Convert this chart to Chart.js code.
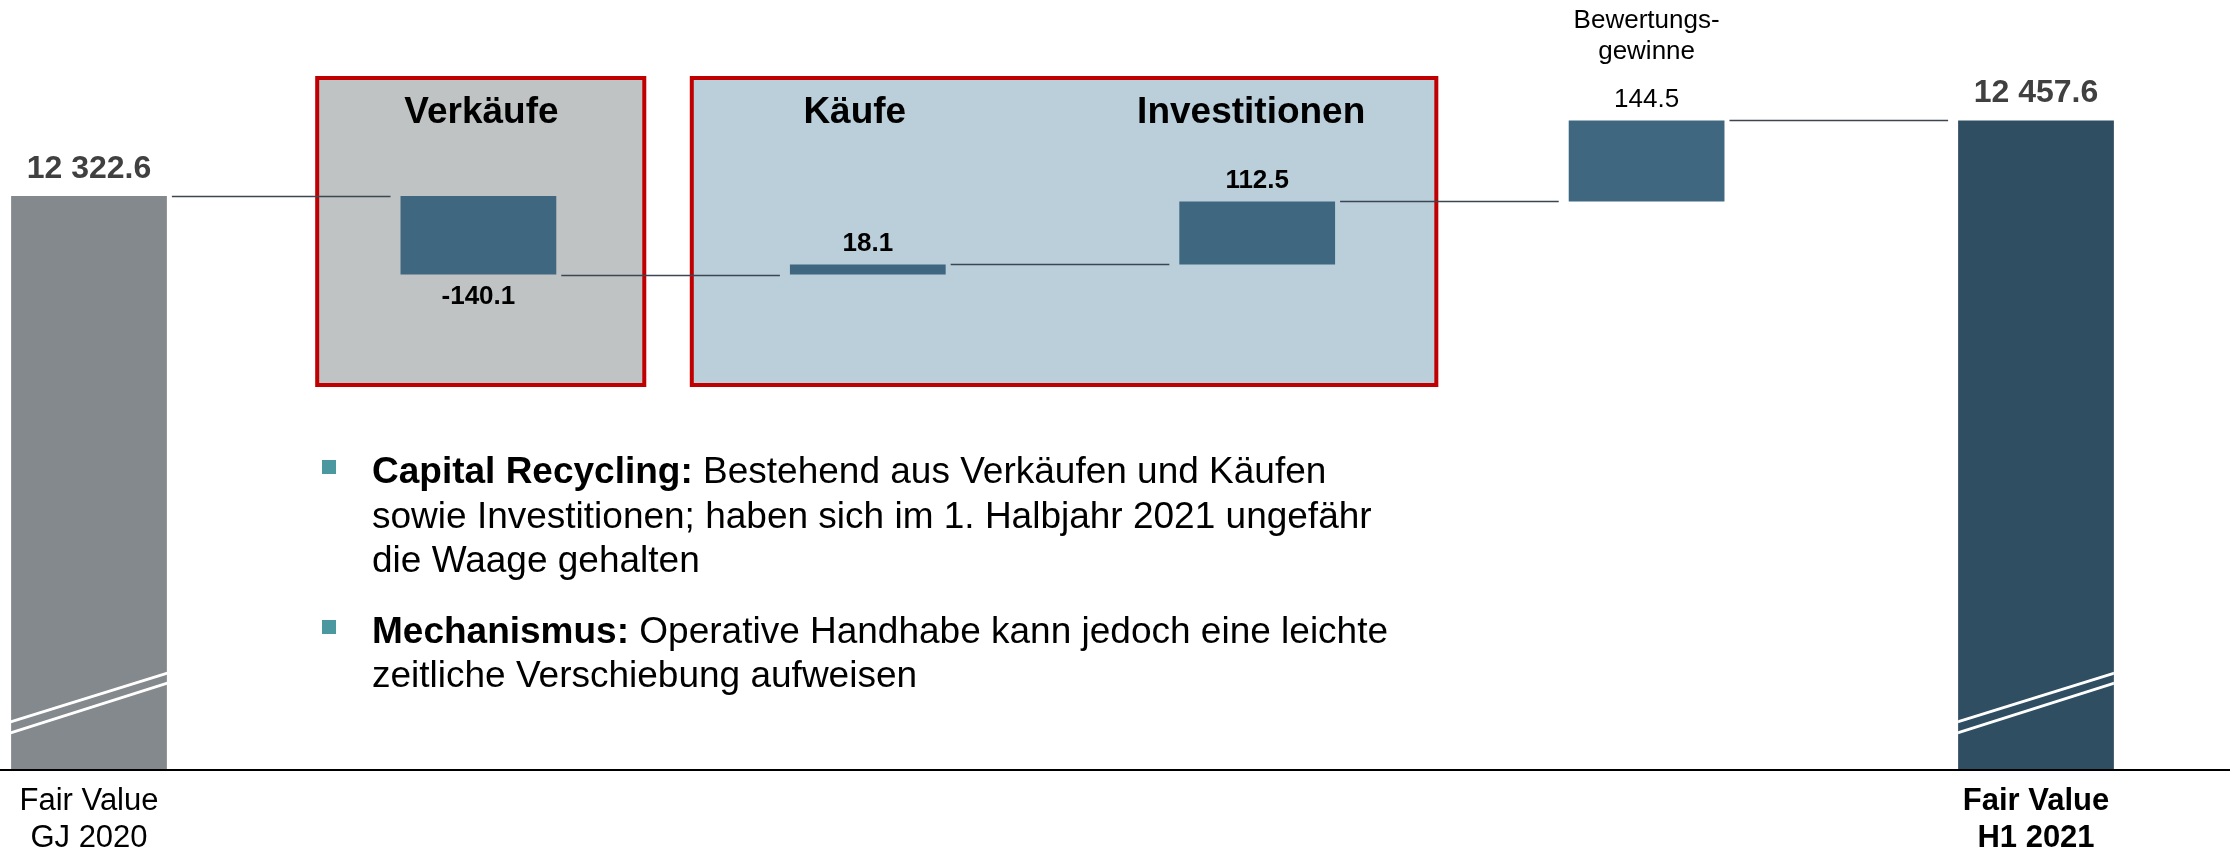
<!DOCTYPE html>
<html lang="de">
<head>
<meta charset="utf-8">
<title>Fair Value Entwicklung H1 2021</title>
<script src="https://cdn.jsdelivr.net/npm/chart.js@4.4.1/dist/chart.umd.min.js"></script>
<style>
  html, body { margin: 0; padding: 0; background: #fff; }
  #wrap { position: relative; width: 2236px; height: 853px; overflow: hidden; }
  #chart { position: absolute; left: 0; top: 0; }
  .notes { position: absolute; left: 372px; top: 449px; font-family: 'Liberation Sans', Arial, sans-serif; font-size: 37px; line-height: 44.5px; color: #000; }
  .notes p { position: relative; margin: 0 0 26px 0; }
  .notes p::before { content: ''; position: absolute; left: -50px; top: 11px; width: 14px; height: 14px; background: #4b98a0; }
</style>
</head>
<body>
<div id="wrap">
  <canvas id="chart" width="2236" height="853"></canvas>
  <div class="notes">
    <p><b>Capital Recycling:</b> Bestehend aus Verkäufen und Käufen<br>sowie Investitionen; haben sich im 1. Halbjahr 2021 ungefähr<br>die Waage gehalten</p>
    <p><b>Mechanismus:</b> Operative Handhabe kann jedoch eine leichte<br>zeitliche Verschiebung aufweisen</p>
  </div>
</div>
<script>
// Wasserfall: Fair Value GJ 2020 -> H1 2021 (Mio. EUR)
const categories = [['Fair Value', 'GJ 2020'], ['Verkäufe'], ['Käufe'], ['Investitionen'], ['Bewertungs-', 'gewinne'], ['Fair Value', 'H1 2021']];
const startValue = 12322.6;
const changes = [-140.1, 18.1, 112.5, 144.5];
const endValue = 12457.6;
// Achsenbruch: sichtbarer Ausschnitt der Werteachse
const axisFloor = 11300;
const axisTop = 12672.6;

const FONT = "'Liberation Sans', Arial, sans-serif";
const last = categories.length - 1;

// laufende Summen und schwebende Balken
const running = [startValue];
const barData = [startValue];
changes.forEach((c, i) => {
  const prev = running[i];
  running.push(prev + c);
  barData.push([prev, prev + c]);
});
running.push(endValue);
barData.push(endValue);

const barColors = ['#84898d', '#3f6780', '#3f6780', '#3f6780', '#3f6780', '#2f4e62'];
const valueWeight = ['bold', 'bold', 'bold', 'bold', 'normal', 'bold'];

function fmt(v) {
  const [int, dec] = Math.abs(v).toFixed(1).split('.');
  return (v < 0 ? '-' : '') + int.replace(/\B(?=(\d{3})+(?!\d))/g, ' ') + '.' + dec;
}

const decor = {
  id: 'decor',
  beforeDatasetsDraw(chart) {
    const { ctx } = chart;
    const x = chart.scales.x;
    const step = x.getPixelForValue(1) - x.getPixelForValue(0);
    const groups = [
      { from: 1, to: 1, l: 0.414, r: 0.426, fill: '#bfc3c4' },
      { from: 2, to: 3, l: 0.452, r: 0.460, fill: '#bacfda' }
    ];
    ctx.save();
    groups.forEach(g => {
      const left = x.getPixelForValue(g.from) - g.l * step;
      const right = x.getPixelForValue(g.to) + g.r * step;
      const top = 78, bottom = 385;
      ctx.fillStyle = g.fill;
      ctx.fillRect(left, top, right - left, bottom - top);
      ctx.strokeStyle = '#c00000';
      ctx.lineWidth = 4;
      ctx.strokeRect(left, top, right - left, bottom - top);
    });
    ctx.restore();
  },
  afterDatasetsDraw(chart) {
    const { ctx, chartArea } = chart;
    const y = chart.scales.y;
    const bars = chart.getDatasetMeta(0).data;
    ctx.save();

    // Achsenbruch in den Summenbalken
    [0, last].forEach(i => {
      const b = bars[i];
      const l = b.x - b.width / 2, r = b.x + b.width / 2, bot = Math.max(b.y, b.base);
      ctx.save();
      ctx.beginPath();
      ctx.rect(l, Math.min(b.y, b.base), b.width, Math.abs(b.base - b.y));
      ctx.clip();
      ctx.strokeStyle = '#fff';
      ctx.lineWidth = 3;
      [[47, 96], [36, 86]].forEach(([a, c]) => {
        ctx.beginPath();
        ctx.moveTo(l - 1, bot - a);
        ctx.lineTo(r + 1, bot - c);
        ctx.stroke();
      });
      ctx.restore();
    });

    // Verbindungslinien
    ctx.strokeStyle = '#3c4650';
    ctx.lineWidth = 1.6;
    for (let i = 0; i < last; i++) {
      const a = bars[i], b = bars[i + 1];
      const py = Math.round(y.getPixelForValue(running[i])) + 0.5;
      ctx.beginPath();
      ctx.moveTo(a.x + a.width / 2 + 5, py);
      ctx.lineTo(b.x - b.width / 2 - 10, py);
      ctx.stroke();
    }

    // Wertbeschriftungen
    ctx.textAlign = 'center';
    ctx.textBaseline = 'alphabetic';
    bars.forEach((b, i) => {
      const top = Math.min(b.y, b.base), bottom = Math.max(b.y, b.base);
      if (i === 0 || i === last) {
        ctx.fillStyle = '#404040';
        ctx.font = `bold 32px ${FONT}`;
        ctx.fillText(fmt(i === 0 ? startValue : endValue), b.x, top - 18);
      } else {
        const v = changes[i - 1];
        ctx.fillStyle = '#000';
        ctx.font = `${valueWeight[i]} 26px ${FONT}`;
        if (v < 0) ctx.fillText(fmt(v), b.x, bottom + 29);
        else ctx.fillText(fmt(v), b.x, top - 13);
      }
    });

    // Kategorieüberschriften oben
    const headDx = { 1: 3, 2: -13, 3: -6, 4: 0 };
    for (let i = 1; i < last; i++) {
      const b = bars[i];
      ctx.fillStyle = '#000';
      if (categories[i].length === 1) {
        ctx.font = `bold 37px ${FONT}`;
        ctx.fillText(categories[i][0], b.x + headDx[i], 123);
      } else {
        ctx.font = `26px ${FONT}`;
        categories[i].forEach((t, k) => ctx.fillText(t, b.x + headDx[i], 28 + k * 31));
      }
    }

    // Grundlinie über die volle Breite
    ctx.strokeStyle = '#000';
    ctx.lineWidth = 2;
    ctx.beginPath();
    ctx.moveTo(0, chartArea.bottom + 1);
    ctx.lineTo(chart.width - 6, chartArea.bottom + 1);
    ctx.stroke();
    ctx.restore();
  }
};

new Chart(document.getElementById('chart'), {
  type: 'bar',
  data: {
    labels: categories,
    datasets: [{
      data: barData,
      base: axisFloor,
      backgroundColor: barColors,
      borderWidth: 0,
      categoryPercentage: 1,
      barPercentage: 0.4,
      clip: false
    }]
  },
  options: {
    responsive: false,
    animation: false,
    layout: { padding: { left: 89, right: 200, top: 0, bottom: 0 } },
    plugins: { legend: { display: false }, tooltip: { enabled: false } },
    scales: {
      x: {
        offset: false,
        grid: { display: false, drawTicks: false },
        border: { display: false },
        ticks: {
          autoSkip: false,
          maxRotation: 0,
          padding: 14,
          color: '#000',
          font: (c) => ({ family: FONT, size: 31, weight: c.index === last ? 'bold' : 'normal', lineHeight: 1.19 }),
          callback: (v, i) => (i === 0 || i === last) ? categories[i] : ''
        },
        afterFit: (s) => { s.height = 84; }
      },
      y: {
        display: false,
        beginAtZero: false,
        min: axisFloor,
        max: axisTop
      }
    }
  },
  plugins: [decor]
});
</script>
</body>
</html>
